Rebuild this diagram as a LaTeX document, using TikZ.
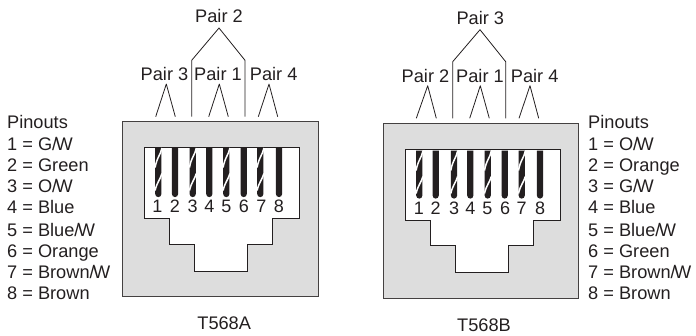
\documentclass[tikz,border=0pt]{standalone}
\usepackage{fontspec}
\setmainfont{Liberation Sans}
\definecolor{ink}{HTML}{231F20}
\definecolor{panel}{HTML}{DDDDDD}
\newcommand{\slw}{/\kern-0.09em W}
\tikzset{
  x=1pt,y=-1pt,
  lab/.style={inner sep=0pt,font=\fontsize{18.2}{20}\selectfont,text=ink,anchor=base},
  listlab/.style={lab,anchor=base west},
  pinnum/.style={inner sep=0pt,font=\fontsize{18}{20}\selectfont,text=ink,anchor=base},
  conn/.style={draw=ink,line width=0.8pt,line join=round},
  jackbody/.style={draw=ink!85,fill=panel,line width=0.9pt},
  slot/.style={draw=ink,fill=white,line width=0.8pt},
  stripe/.style={draw=white,line width=1.5pt},
}
\newcommand{\solidwire}[2]{\fill[ink] (#1-3.1,#2) -- (#1+3.1,#2) -- (#1+3.1,194) arc[start angle=0,end angle=180,radius=3.1] -- cycle;}
\newcommand{\twistwire}[2]{\solidwire{#1}{#2}
  \draw[stripe] (#1+3.6,#2+0.5) .. controls (#1+2.5,#2+7) and (#1-1.5,#2+10) .. (#1-3.2,#2+20);
  \draw[stripe] (#1+3.6,#2+26) .. controls (#1+2,#2+32) and (#1-1.5,#2+35) .. (#1-3.2,#2+43);}
\begin{document}
\begin{tikzpicture}
\useasboundingbox (0,0) rectangle (696,335);
% left jack
\draw[jackbody] (122.5,121.7) rectangle (318,296);
\draw[slot] (144.5,147.5) -- (299,147.5) -- (299,218.7) -- (272.7,218.7) -- (272.7,244.3) -- (247.3,244.3) -- (247.3,271.3) -- (194.7,271.3) -- (194.7,244.3) -- (169.7,244.3) -- (169.7,218.7) -- (144.5,218.7) -- cycle;
\twistwire{158.3}{147.5}\solidwire{175}{147.5}\twistwire{192.7}{147.5}\solidwire{209.3}{147.5}
\twistwire{226.3}{147.5}\solidwire{243.7}{147.5}\twistwire{260.3}{147.5}\solidwire{279}{147.5}
\foreach \n/\x in {1/157.3,2/175,3/192.7,4/209.3,5/226.3,6/244,7/261.3,8/279}
  \node[pinnum] (la\n) at (\x,212.8) {\n};
% right jack
\draw[jackbody] (383.3,123.3) rectangle (578,298);
\draw[slot] (405.3,149) -- (560.3,149) -- (560.3,220.3) -- (533.7,220.3) -- (533.7,245.7) -- (508.3,245.7) -- (508.3,272.7) -- (455.7,272.7) -- (455.7,245.7) -- (430.3,245.7) -- (430.3,220.3) -- (405.3,220.3) -- cycle;
\begin{scope}[yshift=-1.5pt]
\twistwire{419.3}{149}\solidwire{435.7}{149}\twistwire{454}{149}\solidwire{470.3}{149}
\twistwire{487.7}{149}\solidwire{504.7}{149}\twistwire{521.7}{149}\solidwire{540}{149}
\end{scope}
\foreach \n/\x in {1/419,2/435.7,3/454,4/470.3,5/487.3,6/505,7/521.7,8/540}
  \node[pinnum] (lb\n) at (\x,214.6) {\n};
% pair labels
\node[lab] (a2) at (219,22) {Pair 2};
\node[lab] (a3) at (164.5,80) {Pair 3};
\node[lab] (a1) at (218,80) {Pair 1};
\node[lab] (a4) at (273.7,80) {Pair 4};
\node[lab] (b3) at (480.3,24) {Pair 3};
\node[lab] (b2) at (425.5,82) {Pair 2};
\node[lab] (b1) at (480,82) {Pair 1};
\node[lab] (b4) at (534.7,82) {Pair 4};
% carets
\foreach \p/\ax/\ay/\lx/\rx/\fy in {a3/166.3/84/155.7/175.3/116.7,a1/219.3/84/208.7/228.3/116.7,a4/269/84/258.3/277.7/116.7,b2/427.7/85.7/416.3/436.3/118.3,b1/480.3/85.7/469.7/489.3/118.3,b4/530/85.7/519/538.7/118.3}{
  \coordinate (\p top) at (\ax,\ay);
  \coordinate (\p l) at (\lx,\fy);
  \coordinate (\p r) at (\rx,\fy);
  \draw[conn] (\p l) -- (\p top) -- (\p r);
}
\coordinate (a2top) at (219,28);
\coordinate (a2sl) at (191.7,60.3);
\coordinate (a2sr) at (245,60.3);
\coordinate (a2l) at (191.7,116.7);
\coordinate (a2r) at (245,116.7);
\draw[conn] (a2l) -- (a2sl) -- (a2top) -- (a2sr) -- (a2r);
\coordinate (b3top) at (480,29.7);
\coordinate (b3sl) at (452.7,61.7);
\coordinate (b3sr) at (505.7,61.7);
\coordinate (b3l) at (452.7,118.3);
\coordinate (b3r) at (505.7,118.3);
\draw[conn] (b3l) -- (b3sl) -- (b3top) -- (b3sr) -- (b3r);
% captions
\node[lab] (capa) at (224.2,329.3) {T568A};
\node[lab] (capb) at (484,331) {T568B};
% lists
\node[listlab] (lh) at (7,128.3) {Pinouts};
\foreach \n/\y/\t in {1/150/{1 = G\slw},2/171.7/{2 = Green},3/192.6/{3 = O\slw},4/213.6/{4 = Blue},5/236/{5 = Blue\slw},6/257.3/{6 = Orange},7/278.3/{7 = Brown\slw},8/299.3/{8 = Brown}}
  \node[listlab] (l\n) at (7,\y) {\t};
\node[listlab] (rh) at (588,128.3) {Pinouts};
\foreach \n/\y/\t in {1/150/{1 = O\slw},2/171.7/{2 = Orange},3/192.6/{3 = G\slw},4/213.6/{4 = Blue},5/236/{5 = Blue\slw},6/257.3/{6 = Green},7/278.3/{7 = Brown\slw},8/299.3/{8 = Brown}}
  \node[listlab] (r\n) at (588,\y) {\t};
\end{tikzpicture}
\end{document}
